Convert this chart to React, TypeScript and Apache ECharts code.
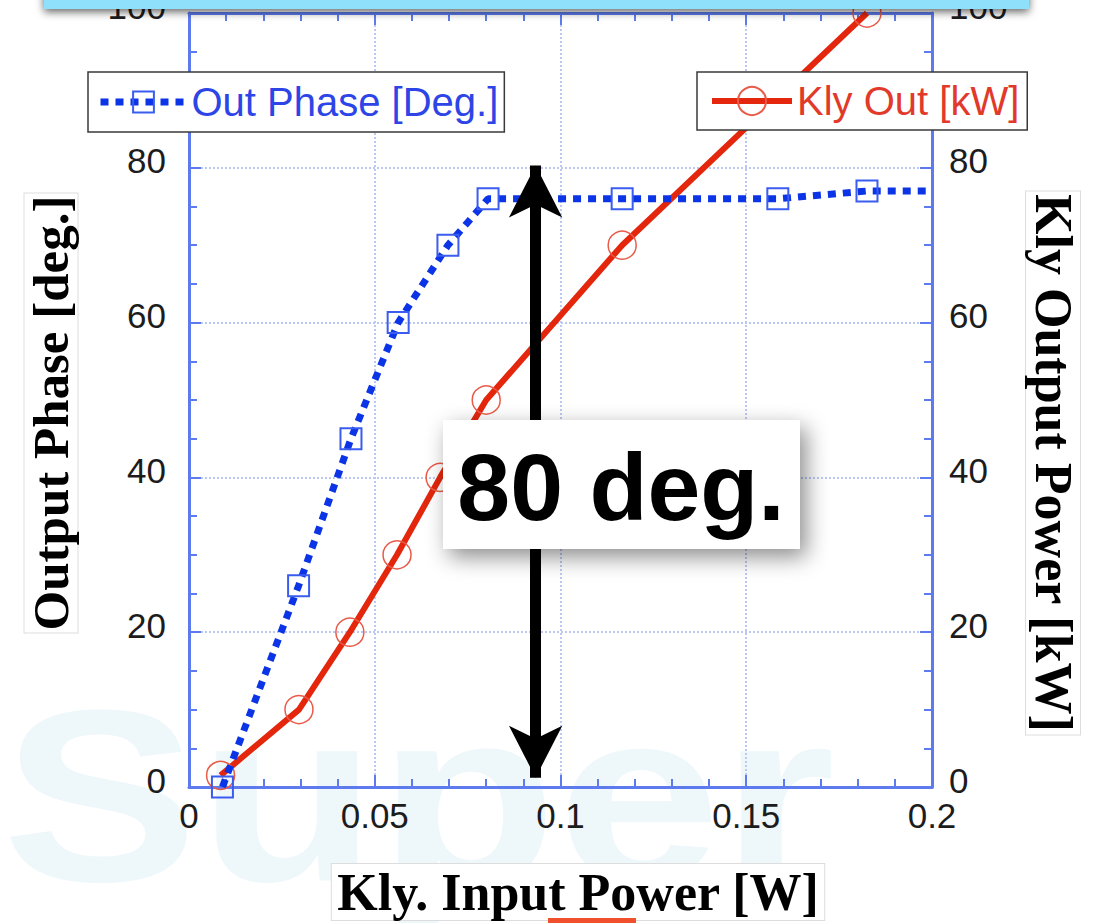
import React, { useEffect, useRef } from 'react';
import * as echarts from 'echarts';

// Out Phase [Deg.] (left axis)
const phaseX = [0.009, 0.0295, 0.0436, 0.0563, 0.0697, 0.0805, 0.1166, 0.1585, 0.1825, 0.2];
const phaseY = [0, 26, 45, 60, 70, 76, 76, 76, 77, 77];
// Kly Out [kW] (right axis)
const powerX = [0.0085, 0.0296, 0.0433, 0.056, 0.0676, 0.08, 0.1166, 0.1825];
const powerY = [1.5, 10, 20, 30, 40, 50, 70, 100];

const xRange = [0, 0.2];
const xStep = 0.05;
const yRange = [0, 100];
const yStep = 20;

// annotation: double arrow spanning the phase change
const arrowX = 0.0933;
const arrowFrom = 1.2;
const arrowTo = 80.3;
const annotationText = '80 deg.';

const phaseName = 'Out Phase [Deg.]';
const powerName = 'Kly Out [kW]';
const xTitle = 'Kly. Input Power [W]';
const yLeftTitle = 'Output Phase [deg.]';
const yRightTitle = 'Kly Output Power [kW]';

const AXIS_BLUE = '#5d7bef';
const GRID_BLUE = '#bcc8f4';
const PHASE_BLUE = '#0b34e6';
const POWER_RED = '#e3260c';

export default function App() {
  const ref = useRef<HTMLDivElement>(null);
  useEffect(() => {
    if (!ref.current) return;
    const chart = echarts.init(ref.current, undefined, { renderer: 'svg' });

    const labelStyle = { fontSize: 35, fontFamily: 'Liberation Sans, Arial, sans-serif', color: '#1c1c1c' };
    const baseX = {
      type: 'value',
      min: xRange[0],
      max: xRange[1],
      interval: xStep,
      axisLine: { show: true, onZero: false, lineStyle: { color: AXIS_BLUE, width: 3 } },
      axisTick: { show: true, inside: true, length: 12, lineStyle: { color: AXIS_BLUE, width: 2 } },
      minorTick: { show: true, splitNumber: 5, length: 8, lineStyle: { color: AXIS_BLUE, width: 2 } },
    };
    const baseY = {
      type: 'value',
      min: yRange[0],
      max: yRange[1],
      interval: yStep,
      axisLine: { show: true, onZero: false, lineStyle: { color: AXIS_BLUE, width: 3 } },
      axisTick: { show: true, inside: true, length: 12, lineStyle: { color: AXIS_BLUE, width: 2 } },
      minorTick: { show: true, splitNumber: 4, length: 8, lineStyle: { color: AXIS_BLUE, width: 2 } },
    };

    const titleFont = (s: number) => `bold ${s}px "Liberation Serif", "Times New Roman", serif`;

    chart.setOption({
      animation: false,
      backgroundColor: '#ffffff',
      grid: { left: 189, right: 162, top: 13, bottom: 136, containLabel: false, outerBoundsMode: 'none' },
      xAxis: [
        {
          ...baseX,
          position: 'bottom',
          axisLabel: { ...labelStyle, margin: 11 },
          splitLine: { show: true, lineStyle: { color: GRID_BLUE, width: 2, type: [2, 2] } },
        },
        {
          ...baseX,
          position: 'top',
          axisLabel: { show: false },
          splitLine: { show: false },
        },
      ],
      yAxis: [
        {
          ...baseY,
          position: 'left',
          axisLabel: { ...labelStyle, margin: 23, verticalAlign: 'bottom', lineHeight: 14 },
          splitLine: { show: true, lineStyle: { color: GRID_BLUE, width: 2, type: [2, 2] } },
        },
        {
          ...baseY,
          position: 'right',
          axisLabel: { ...labelStyle, margin: 17, verticalAlign: 'bottom', lineHeight: 14 },
          splitLine: { show: false },
        },
      ],
      legend: [
        {
          data: [phaseName],
          left: 88,
          top: 72,
          padding: [10, 6, 10, 9],
          itemWidth: 86,
          itemHeight: 26,
          backgroundColor: '#ffffff',
          borderColor: '#3a3a3a',
          borderWidth: 1.5,
          borderRadius: 0,
          lineStyle: { width: 7, type: [8, 7], color: PHASE_BLUE },
          textStyle: { color: '#2d45e6', fontSize: 40, fontFamily: 'Liberation Sans, Arial, sans-serif' },
        },
        {
          data: [powerName],
          left: 697,
          top: 72,
          padding: [9, 8, 9, 12],
          itemWidth: 80,
          itemHeight: 35,
          backgroundColor: '#ffffff',
          borderColor: '#3a3a3a',
          borderWidth: 1.5,
          borderRadius: 0,
          lineStyle: { width: 6, color: POWER_RED },
          textStyle: { color: '#e23a2a', fontSize: 40, fontFamily: 'Liberation Sans, Arial, sans-serif' },
        },
      ],
      series: [
        {
          name: powerName,
          type: 'line',
          xAxisIndex: 0,
          yAxisIndex: 1,
          z: 2,
          data: powerX.map((x, i) => [x, powerY[i]]),
          symbol: 'circle',
          symbolSize: 28,
          showAllSymbol: true,
          lineStyle: { color: POWER_RED, width: 6 },
          itemStyle: { color: 'rgba(255,255,255,0)', borderColor: '#ea5a48', borderWidth: 1.5 },
          clip: false,
        },
        {
          name: phaseName,
          type: 'line',
          xAxisIndex: 0,
          yAxisIndex: 0,
          z: 3,
          data: phaseX.map((x, i) =>
            i === phaseX.length - 1 ? { value: [x, phaseY[i]], symbol: 'none' } : [x, phaseY[i]]
          ),
          symbol: 'rect',
          symbolSize: 21,
          showAllSymbol: true,
          lineStyle: { color: PHASE_BLUE, width: 7, type: [8, 7], cap: 'butt' },
          itemStyle: { color: 'rgba(255,255,255,0)', borderColor: '#3a5cf0', borderWidth: 2 },
          clip: false,
          markLine: {
            silent: true,
            symbol: ['arrow', 'arrow'],
            symbolSize: [40, 52],
            label: { show: false },
            lineStyle: { color: '#000000', width: 11, type: 'solid' },
            data: [[{ coord: [arrowX, arrowFrom] }, { coord: [arrowX, arrowTo] }]],
          },
        },
      ],
      graphic: [
        // faint watermark
        {
          type: 'text',
          z: 0,
          silent: true,
          x: 2,
          y: 918,
          scaleX: 1.2,
          style: {
            text: 'Super',
            font: 'bold 245px "Liberation Sans", Arial, sans-serif',
            fill: '#eef7fa',
            align: 'left',
            verticalAlign: 'bottom',
          },
        },
        // axis titles
        {
          type: 'text',
          z: 60,
          x: 51,
          y: 413,
          rotation: Math.PI / 2,
          style: {
            text: yLeftTitle,
            font: titleFont(51),
            fill: '#000',
            align: 'center',
            verticalAlign: 'middle',
            backgroundColor: '#fff',
            borderColor: '#dddddd',
            borderWidth: 1,
            padding: [1, 2, 1, 2],
          },
        },
        {
          type: 'text',
          z: 60,
          x: 1053,
          y: 463,
          rotation: -Math.PI / 2,
          style: {
            text: yRightTitle,
            font: titleFont(52),
            fill: '#000',
            align: 'center',
            verticalAlign: 'middle',
            backgroundColor: '#fff',
            borderColor: '#dddddd',
            borderWidth: 1,
            padding: [1, 2, 1, 2],
          },
        },
        {
          type: 'text',
          z: 60,
          x: 578,
          y: 892,
          style: {
            text: xTitle,
            font: titleFont(52),
            fill: '#000',
            align: 'center',
            verticalAlign: 'middle',
            backgroundColor: '#fff',
            borderColor: '#dddddd',
            borderWidth: 1,
            padding: [2, 5, 2, 5],
          },
        },
        // annotation box
        {
          type: 'rect',
          z: 70,
          shape: { x: 443, y: 420, width: 357, height: 129 },
          style: {
            fill: '#ffffff',
            shadowBlur: 22,
            shadowColor: 'rgba(0,0,0,0.45)',
            shadowOffsetX: 6,
            shadowOffsetY: 8,
          },
        },
        {
          type: 'text',
          z: 71,
          x: 621,
          y: 487,
          style: {
            text: annotationText,
            font: 'bold 95px "Liberation Sans", Arial, sans-serif',
            fill: '#000',
            align: 'center',
            verticalAlign: 'middle',
          },
        },
        // top banner
        {
          type: 'rect',
          z: 100,
          shape: { x: 44, y: -20, width: 985, height: 29 },
          style: {
            fill: '#8fe1fb',
            shadowBlur: 8,
            shadowColor: 'rgba(0,0,0,0.6)',
            shadowOffsetY: 3,
          },
        },
        // small red strip at bottom
        {
          type: 'rect',
          z: 100,
          shape: { x: 548, y: 918, width: 88, height: 8 },
          style: { fill: '#f0502c' },
        },
      ],
    });
    return () => chart.dispose();
  }, []);
  return <div ref={ref} style={{ width: 1094, height: 923, position: 'absolute', left: 0, top: 0 }} />;
}
